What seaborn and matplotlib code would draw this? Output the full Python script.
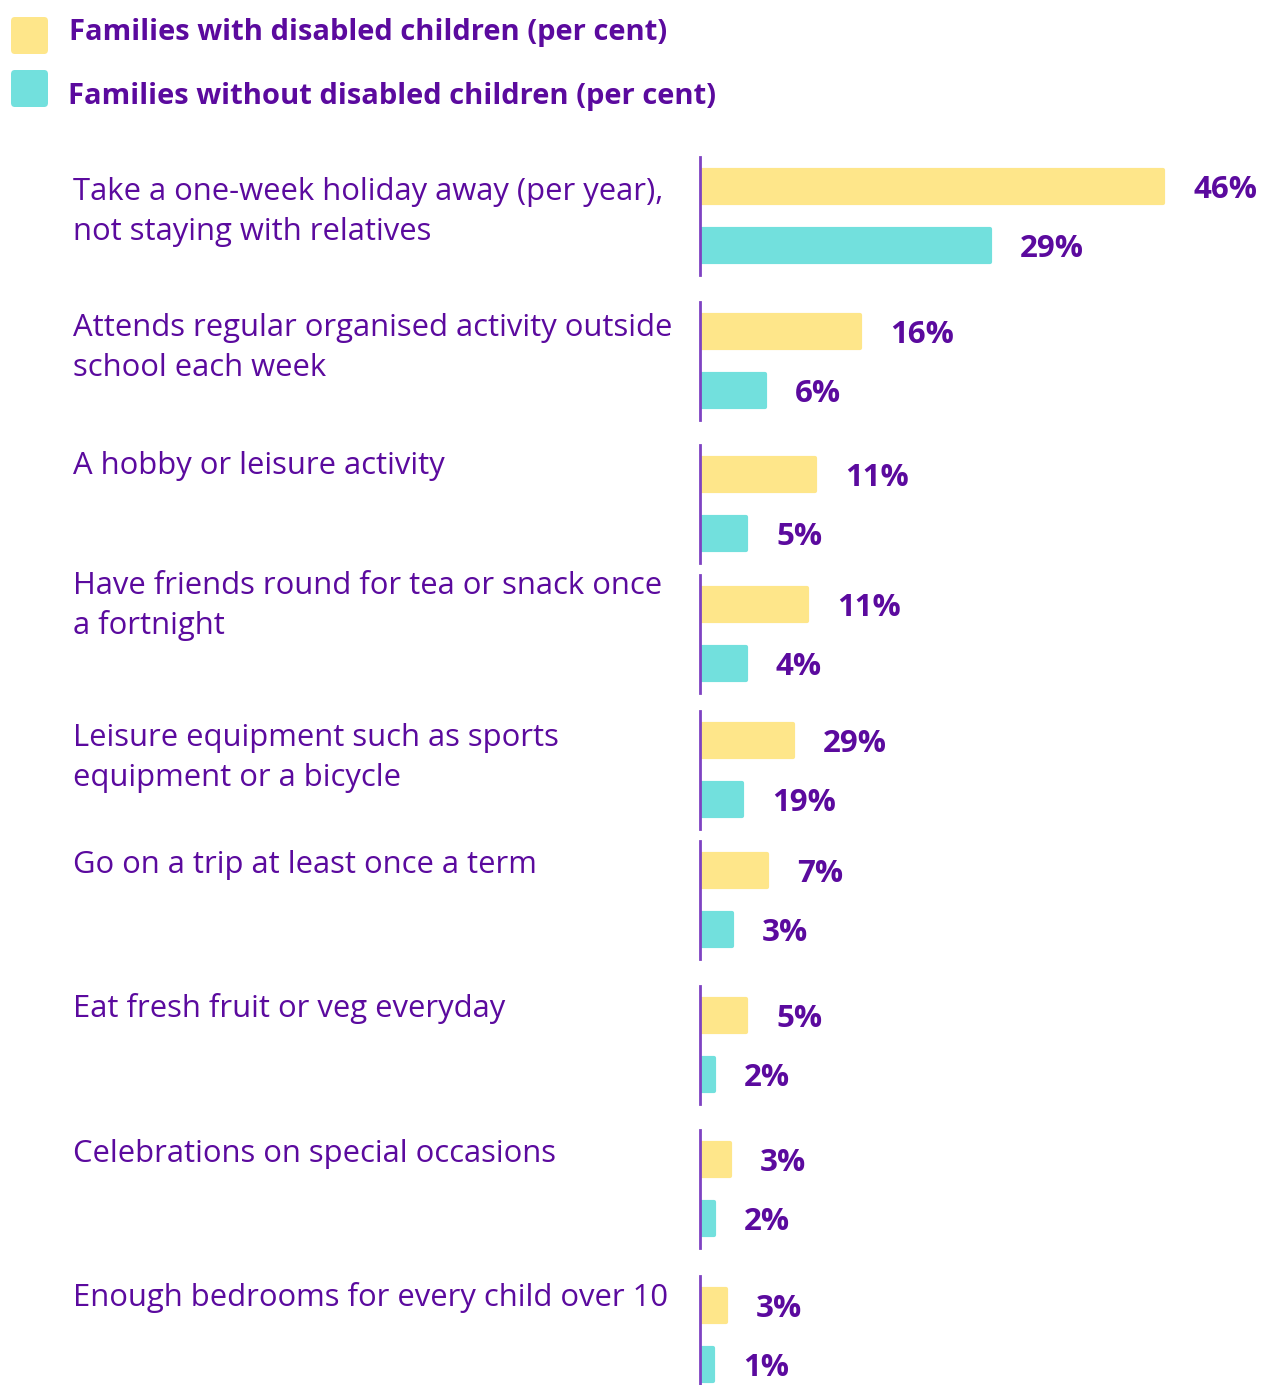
import matplotlib
matplotlib.use("Agg")
import matplotlib.pyplot as plt
from matplotlib.patches import FancyBboxPatch
import seaborn as sns
import pandas as pd

# chart data
categories = [
    "Take a one-week holiday away (per year),\nnot staying with relatives",
    "Attends regular organised activity outside\nschool each week",
    "A hobby or leisure activity",
    "Have friends round for tea or snack once\na fortnight",
    "Leisure equipment such as sports\nequipment or a bicycle",
    "Go on a trip at least once a term",
    "Eat fresh fruit or veg everyday",
    "Celebrations on special occasions",
    "Enough bedrooms for every child over 10",
]
# bar lengths as drawn in the picture
with_disabled = [46.3, 16.0, 11.5, 10.7, 9.3, 6.7, 4.6, 3.0, 2.6]
without_disabled = [29.0, 6.5, 4.6, 4.6, 4.2, 3.2, 1.4, 1.4, 1.3]
# printed labels
with_labels = ["46%", "16%", "11%", "11%", "29%", "7%", "5%", "3%", "3%"]
without_labels = ["29%", "6%", "5%", "4%", "19%", "3%", "2%", "2%", "1%"]
series_names = ["Families with disabled children (per cent)",
                "Families without disabled children (per cent)"]

# layout (pixels)
W, H = 1268, 1385
group_tops = [157, 302, 445, 575, 711, 841, 986, 1130, 1276]
group_h = 118
text_base = [200, 336, 474, 594, 746, 873, 1017, 1162, 1306]
line_step = 40
axis_x = 700

purple = "#5b0a9e"
line_col = "#7e42c2"
yellow = "#fee68a"
teal = "#72e0dd"

sns.set_theme(style="white")
plt.rcParams["font.family"] = ["Open Sans", "DejaVu Sans"]

fig = plt.figure(figsize=(W / 100, H / 100), dpi=100)

def fx(px):
    return px / W

def fy(py):
    return 1 - py / H

# legend
for i, (name, col) in enumerate(zip(series_names, [yellow, teal])):
    top = [17, 70][i]
    box = FancyBboxPatch((fx(11), fy(top + 37)), fx(37), 37 / H,
                         boxstyle="round,pad=0,rounding_size=0.003",
                         transform=fig.transFigure, fc=col, ec="none")
    fig.patches.append(box)
    fig.text(fx([69, 68][i]), fy([40, 104][i]), name, color=purple,
             fontsize=21, fontweight="bold", va="baseline")

for i, cat in enumerate(categories):
    for k, line in enumerate(cat.split("\n")):
        fig.text(fx(73), fy(text_base[i] + k * line_step), line,
                 color=purple, fontsize=22.3, va="baseline")

    ax = fig.add_axes([fx(axis_x), fy(group_tops[i] + group_h),
                       fx(W - axis_x), group_h / H])
    df = pd.DataFrame({"series": series_names,
                       "value": [with_disabled[i], without_disabled[i]]})
    sns.barplot(data=df, x="value", y="series", hue="series",
                palette=[yellow, teal], saturation=1, width=0.57,
                legend=False, ax=ax)
    for p in ax.patches:
        p.set_edgecolor(p.get_facecolor())
        p.set_linewidth(3)
        p.set_joinstyle("round")
    for j, (v, lab) in enumerate(zip(df["value"], [with_labels[i], without_labels[i]])):
        ax.text(v + 3.0, j + 0.2, lab, color=purple, fontsize=22.5,
                fontweight="bold", va="baseline")
    ax.set_xlim(0, (W - axis_x) / 10)
    ax.set_ylim(1.5, -0.5)
    ax.set_xlabel("")
    ax.set_ylabel("")
    ax.set_xticks([])
    ax.set_yticks([])
    for s in ["top", "right", "bottom"]:
        ax.spines[s].set_visible(False)
    ax.spines["left"].set_color(line_col)
    ax.spines["left"].set_linewidth(2)
    ax.spines["left"].set_zorder(5)
    ax.patch.set_alpha(0)

fig.savefig("out.png", dpi=100, facecolor="white")
